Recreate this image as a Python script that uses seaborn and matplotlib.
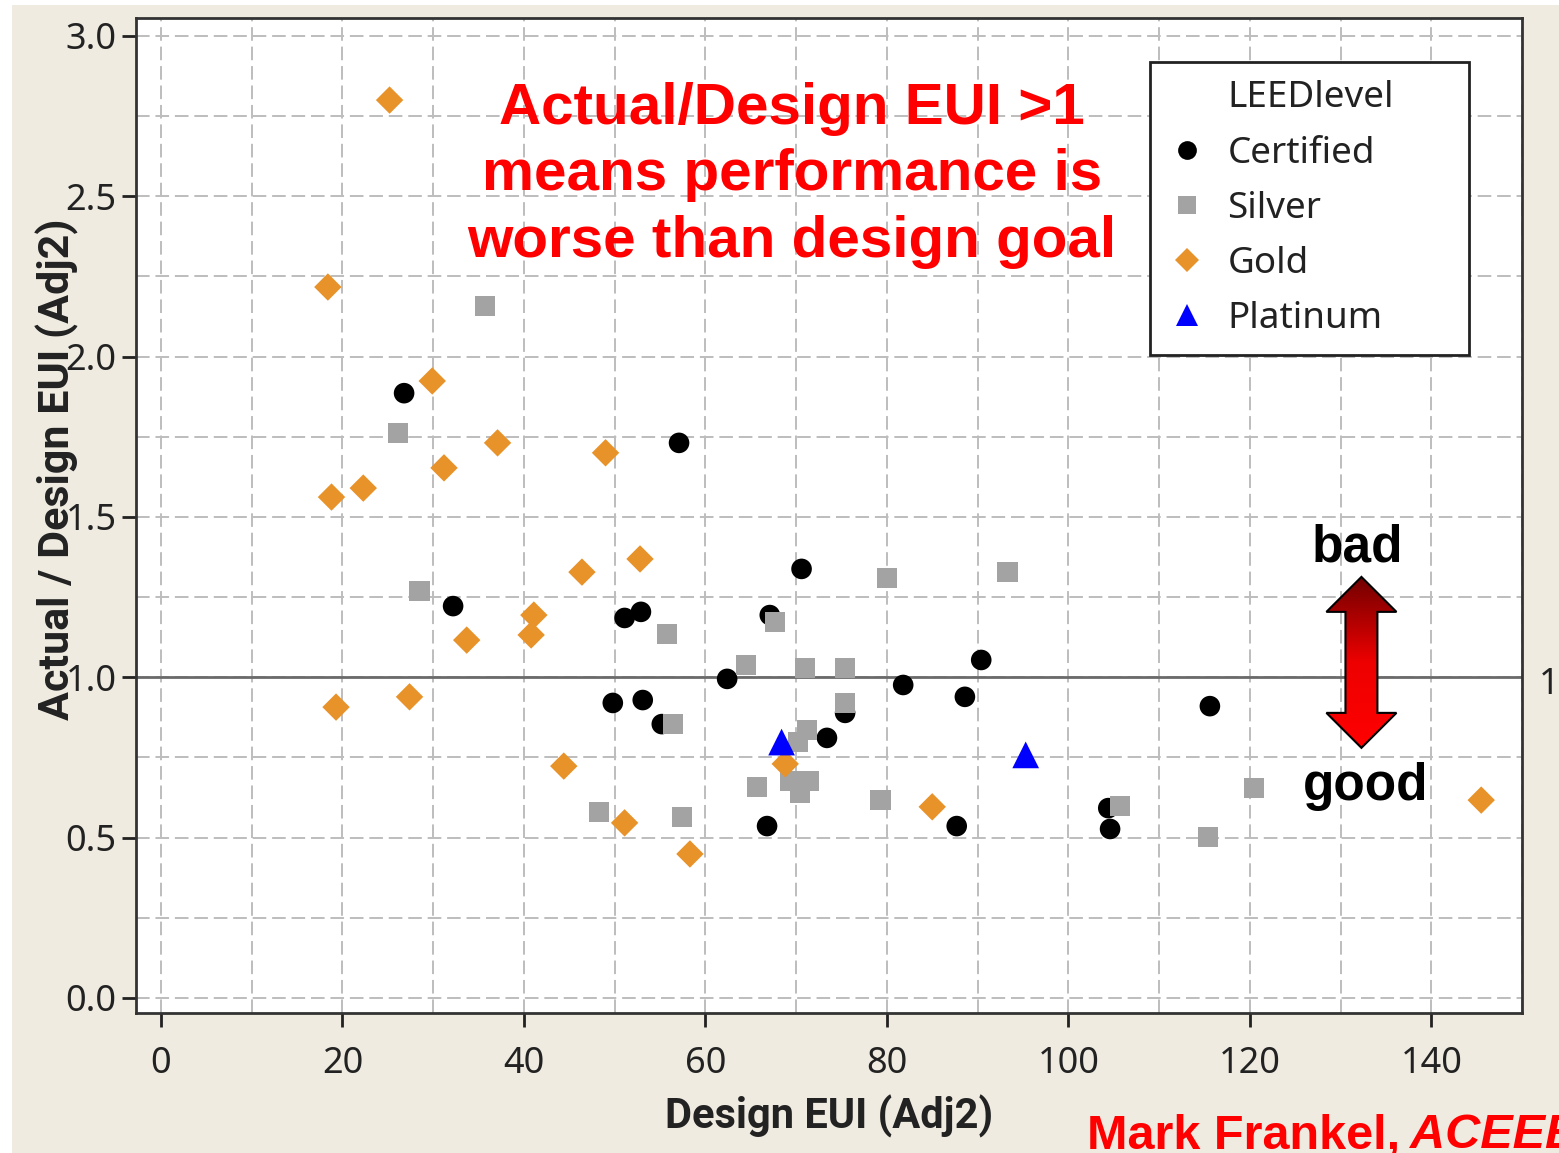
import numpy as np
import pandas as pd
import seaborn as sns
import matplotlib.pyplot as plt
from matplotlib.lines import Line2D
from matplotlib.patches import Polygon, Rectangle
from matplotlib.colors import LinearSegmentedColormap

# values
certified_x = [26.8, 57.1, 70.6, 32.2, 51.1, 52.9, 67.1, 62.4, 90.4, 49.8, 53.1,
               55.2, 81.8, 88.6, 75.4, 73.4, 66.8, 87.7, 104.4, 104.6, 115.6]
certified_y = [1.886, 1.731, 1.338, 1.222, 1.185, 1.204, 1.194, 0.995, 1.054, 0.920, 0.929,
               0.854, 0.976, 0.939, 0.889, 0.811, 0.536, 0.536, 0.592, 0.527, 0.910]

silver_x = [35.7, 26.1, 28.5, 55.8, 67.7, 64.5, 71.0, 75.4, 75.4, 80.0, 93.3, 56.4,
            71.2, 70.2, 65.7, 69.3, 71.4, 70.4, 48.3, 57.4, 79.3, 105.7, 115.4, 120.5]
silver_y = [2.158, 1.762, 1.269, 1.135, 1.172, 1.038, 1.029, 1.029, 0.920, 1.310, 1.328, 0.854,
            0.835, 0.798, 0.658, 0.677, 0.677, 0.639, 0.580, 0.564, 0.617, 0.599, 0.502, 0.655]

gold_x = [25.2, 18.4, 29.9, 37.1, 31.2, 49.0, 18.8, 22.3, 52.8, 46.4, 41.1,
          40.8, 33.7, 19.3, 27.4, 44.4, 68.8, 51.1, 58.3, 85.0, 145.5]
gold_y = [2.800, 2.217, 1.924, 1.731, 1.653, 1.700, 1.562, 1.590, 1.369, 1.328, 1.194,
          1.132, 1.116, 0.907, 0.939, 0.723, 0.730, 0.546, 0.449, 0.596, 0.617]

platinum_x = [68.4, 95.3]
platinum_y = [0.798, 0.758]

levels = ['Certified', 'Silver', 'Gold', 'Platinum']
colors = {'Certified': '#000000', 'Silver': '#a3a3a3', 'Gold': '#e8922a', 'Platinum': '#0000ff'}
markers = {'Certified': 'o', 'Silver': 's', 'Gold': 'D', 'Platinum': '^'}
sizes = {'Certified': 220, 'Silver': 210, 'Gold': 195, 'Platinum': 370}

df = pd.concat([
    pd.DataFrame({'design': certified_x, 'ratio': certified_y, 'LEEDlevel': 'Certified'}),
    pd.DataFrame({'design': silver_x, 'ratio': silver_y, 'LEEDlevel': 'Silver'}),
    pd.DataFrame({'design': gold_x, 'ratio': gold_y, 'LEEDlevel': 'Gold'}),
    pd.DataFrame({'design': platinum_x, 'ratio': platinum_y, 'LEEDlevel': 'Platinum'}),
], ignore_index=True)

sns.set_style('ticks')
plt.rcParams['font.family'] = ['Noto Sans', 'DejaVu Sans']

fig = plt.figure(figsize=(15.59, 11.53), dpi=100, facecolor='white')
fig.patches.append(Rectangle((12 / 1559, 0), 1, 1 - 5 / 1153, transform=fig.transFigure,
                             facecolor='#efebe1', edgecolor='none', zorder=-10))
ax = fig.add_axes([0.0872, 0.1214, 0.8891, 0.8630])
ax.set_facecolor('white')

sns.scatterplot(data=df, x='design', y='ratio', hue='LEEDlevel', style='LEEDlevel',
                size='LEEDlevel', hue_order=levels, style_order=levels, size_order=levels,
                palette=colors, markers=markers, sizes=sizes, linewidth=0,
                legend=False, ax=ax, zorder=3)

# reference line at 1
ax.axhline(1.0, color='#6a6a6a', lw=2, zorder=2)
ax.text(1.012, 0.975, '1', transform=ax.get_yaxis_transform(), fontsize=26,
        va='center', ha='left', color='#222')

# axes, ticks, grid
ax.set_xlim(-2.75, 150)
ax.set_ylim(-0.047, 3.056)
ax.set_xticks(np.arange(0, 141, 20))
ax.set_xticks(np.arange(0, 151, 10), minor=True)
ax.set_yticks(np.arange(0, 3.01, 0.5))
ax.set_yticks(np.arange(0, 3.01, 0.25), minor=True)
ax.set_yticklabels([f'{v:.1f}' for v in np.arange(0, 3.01, 0.5)])
ax.grid(which='both', ls=(0, (7, 3)), color='#bdbdbd', lw=1.4, zorder=0)
ax.tick_params(which='major', labelsize=26, length=10, width=2, color='#222',
               labelcolor='#222')
ax.tick_params(axis='x', pad=14)
ax.tick_params(axis='y', pad=4)
ax.tick_params(which='minor', length=0)
for s in ax.spines.values():
    s.set_color('#333')
    s.set_linewidth(2)

ax.set_xlabel('Design EUI (Adj2)', fontsize=30, fontweight='bold', family='Roboto', color='#222')
ax.set_ylabel('Actual / Design EUI (Adj2)', fontsize=31, fontweight='bold', family='Roboto',
              color='#222')
ax.xaxis.set_label_coords(0.5, -0.082)
ax.yaxis.set_label_coords(-0.041, 0.546)

# legend
handles = [Line2D([], [], ls='none', marker='', label='LEEDlevel')]
msz = {'Certified': 13.5, 'Silver': 12.5, 'Gold': 12, 'Platinum': 16}
for lv in levels:
    handles.append(Line2D([], [], ls='none', marker=markers[lv], color=colors[lv],
                          markersize=msz[lv], markeredgewidth=0, label=lv))
leg = ax.legend(handles=handles, loc='upper left', bbox_to_anchor=(0.7316, 0.6643, 0.2302, 0.2915),
                mode='expand', fontsize=26.5, frameon=True, fancybox=False, framealpha=1,
                borderaxespad=0, borderpad=0.5, labelspacing=0.52, handlelength=1.0,
                handletextpad=0.6)
leg.get_frame().set_edgecolor('#222')
leg.get_frame().set_linewidth(2)
for t in leg.get_texts():
    t.set_color('#222')

# annotations
ax.text(0.473, 0.842, 'Actual/Design EUI >1\nmeans performance is\nworse than design goal',
        transform=ax.transAxes, ha='center', va='center', color='#ff0000',
        fontsize=42, fontweight='bold', family='Liberation Sans', linespacing=1.3, zorder=5)
ax.text(131.9, 1.403, 'bad', ha='center', va='center', fontsize=37, fontweight='bold',
        family='Liberation Sans', color='black', zorder=5)
ax.text(132.8, 0.660, 'good', ha='center', va='center', fontsize=37, fontweight='bold',
        family='Liberation Sans', color='black', zorder=5)

# double headed gradient arrow
cx, hw, sw = 132.3, 3.86, 1.76
top, top_b, bot_b, bot = 1.313, 1.204, 0.889, 0.780
verts = [(cx, top), (cx + hw, top_b), (cx + sw, top_b), (cx + sw, bot_b), (cx + hw, bot_b),
         (cx, bot), (cx - hw, bot_b), (cx - sw, bot_b), (cx - sw, top_b), (cx - hw, top_b)]
arrow = Polygon(verts, closed=True, facecolor='none', edgecolor='black', lw=1.5, zorder=6)
ax.add_patch(arrow)
grad_cmap = LinearSegmentedColormap.from_list('redgrad', ['#ff0000', '#ee0000', '#720000'])
img = ax.imshow(np.linspace(0, 1, 256).reshape(-1, 1), cmap=grad_cmap, origin='lower',
                extent=[cx - hw, cx + hw, bot, top], aspect='auto', zorder=5)
img.set_clip_path(arrow)
ax.set_xlim(-2.75, 150)
ax.set_ylim(-0.047, 3.056)

# source credit
fig.text(1087 / 1559, 1 - 1148 / 1153, 'Mark Frankel, ', fontsize=35, fontweight='bold',
         family='Liberation Sans', color='#ff0000', va='baseline', ha='left')
fig.text(1410 / 1559, 1 - 1148 / 1153, 'ACEEE', fontsize=35, fontweight='bold', style='italic',
         family='Liberation Sans', color='#ff0000', va='baseline', ha='left')

fig.savefig('out.png', dpi=100, facecolor=fig.get_facecolor())
